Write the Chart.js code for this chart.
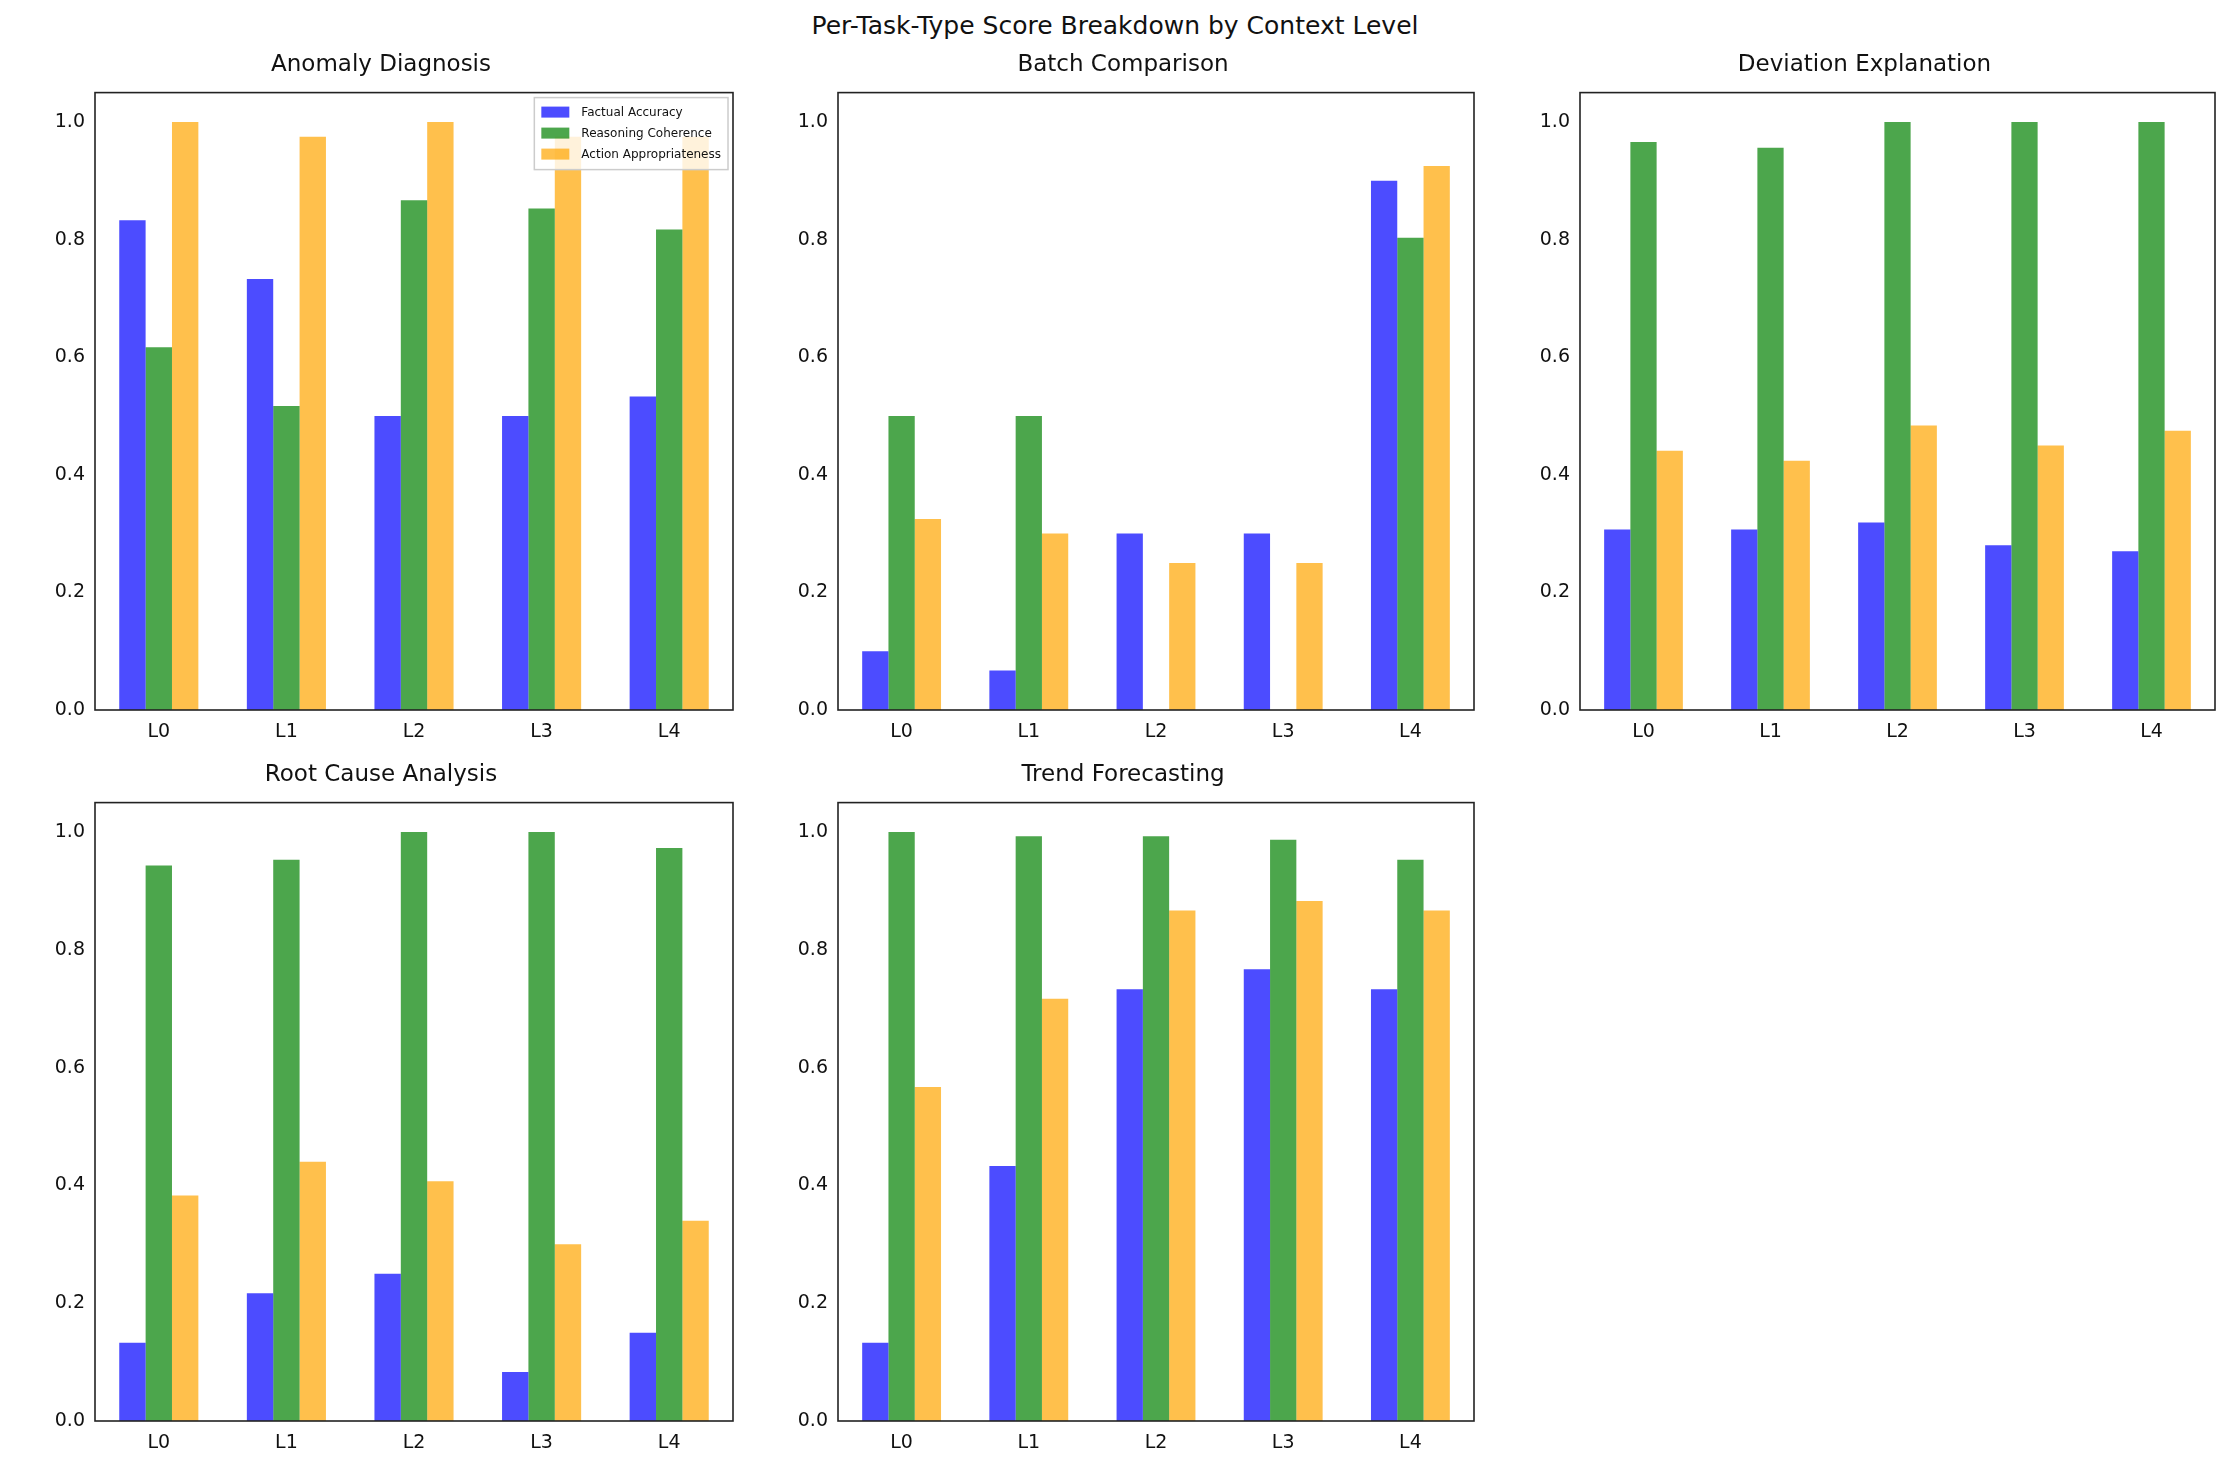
<!DOCTYPE html>
<html lang="en">
<head>
  <meta charset="UTF-8" />
  <title>Per-Task-Type Score Breakdown by Context Level</title>
  <script src="https://cdn.jsdelivr.net/npm/chart.js"></script>
  <style>
    body { margin: 0; background: white; font-family: 'DejaVu Sans', sans-serif; }
    #page { position: relative; width: 2230px; height: 1475px; }
    #suptitle { position: absolute; top: 11px; left: 0; width: 2230px; text-align: center; font-size: 25px; color: #111; }
    .panel { position: absolute; }
  </style>
</head>
<body>
  <div id="page">
    <div id="suptitle">Per-Task-Type Score Breakdown by Context Level</div>
  </div>

  <script>
    const levels = ["L0", "L1", "L2", "L3", "L4"];
    const seriesNames = ["Factual Accuracy", "Reasoning Coherence", "Action Appropriateness"];
    const taskTitles = ["Anomaly Diagnosis", "Batch Comparison", "Deviation Explanation", "Root Cause Analysis", "Trend Forecasting"];
    const yTicks = [0, 0.2, 0.4, 0.6, 0.8, 1.0];

    const anomalyFactual = [0.833, 0.733, 0.5, 0.5, 0.533];
    const anomalyReasoning = [0.617, 0.517, 0.867, 0.853, 0.817];
    const anomalyAction = [1.0, 0.975, 1.0, 0.975, 0.975];

    const batchFactual = [0.1, 0.067, 0.3, 0.3, 0.9];
    const batchReasoning = [0.5, 0.5, 0, 0, 0.803];
    const batchAction = [0.325, 0.3, 0.25, 0.25, 0.925];

    const deviationFactual = [0.307, 0.307, 0.319, 0.28, 0.27];
    const deviationReasoning = [0.966, 0.956, 1.0, 1.0, 1.0];
    const deviationAction = [0.441, 0.424, 0.484, 0.45, 0.475];

    const rootFactual = [0.133, 0.217, 0.25, 0.083, 0.15];
    const rootReasoning = [0.943, 0.953, 1.0, 1.0, 0.973];
    const rootAction = [0.383, 0.44, 0.407, 0.3, 0.34];

    const trendFactual = [0.133, 0.433, 0.733, 0.767, 0.733];
    const trendReasoning = [1.0, 0.993, 0.993, 0.987, 0.953];
    const trendAction = [0.567, 0.717, 0.867, 0.883, 0.867];

    const taskData = [
      [anomalyFactual, anomalyReasoning, anomalyAction],
      [batchFactual, batchReasoning, batchAction],
      [deviationFactual, deviationReasoning, deviationAction],
      [rootFactual, rootReasoning, rootAction],
      [trendFactual, trendReasoning, trendAction]
    ];

    const colors = ["rgba(0,0,255,0.7)", "rgba(0,128,0,0.7)", "rgba(255,165,0,0.7)"];

    // axes boxes (left, top, width, height) in page pixels
    const boxes = [
      [95, 95, 637, 615], [838, 95, 635, 615], [1580, 95, 634, 615],
      [95, 805, 637, 616], [838, 805, 635, 616]
    ];
    const padL = 66, padT = 54, padB = 48;

    // small matplotlib-style legend in the upper right of the axes
    const cornerLegend = {
      id: 'cornerLegend',
      afterDraw(chart, args, opts) {
        if (!opts.show) return;
        const a = chart.chartArea, c = chart.ctx;
        const sets = chart.data.datasets;
        c.save();
        c.font = '12px "DejaVu Sans"';
        const textW = Math.max(...sets.map(d => c.measureText(d.label).width));
        const rowH = 21, boxW = 28, gap = 12, pad = 7;
        const w = pad + boxW + gap + textW + pad;
        const h = pad + rowH * sets.length + 2;
        const x = a.right - w - 5, y = a.top + 5;
        c.fillStyle = 'rgba(255,255,255,0.8)';
        c.fillRect(x, y, w, h);
        c.strokeStyle = '#ccc';
        c.lineWidth = 1.5;
        c.strokeRect(x, y, w, h);
        sets.forEach((d, k) => {
          const ry = y + pad + k * rowH;
          c.fillStyle = d.backgroundColor;
          c.fillRect(x + pad, ry + 2, boxW, 11);
          c.fillStyle = '#111';
          c.textBaseline = 'middle';
          c.fillText(d.label, x + pad + boxW + gap, ry + 8);
        });
        c.restore();
      }
    };

    // axes frame on all four sides
    const axesFrame = {
      id: 'axesFrame',
      afterDraw(chart) {
        const a = chart.chartArea, c = chart.ctx;
        c.save();
        c.strokeStyle = '#222';
        c.lineWidth = 1.6;
        c.strokeRect(a.left, a.top, a.right - a.left, a.bottom - a.top);
        c.restore();
      }
    };

    taskTitles.forEach((title, i) => {
      const [l, t, w, h] = boxes[i];
      const div = document.createElement('div');
      div.className = 'panel';
      div.style.left = (l - padL) + 'px';
      div.style.top = (t - padT) + 'px';
      div.style.width = (w + padL + 4) + 'px';
      div.style.height = (h + padT + padB) + 'px';
      const canvas = document.createElement('canvas');
      div.appendChild(canvas);
      document.getElementById('page').appendChild(div);

      new Chart(canvas.getContext('2d'), {
        type: 'bar',
        data: {
          labels: levels,
          datasets: seriesNames.map((name, k) => ({
            label: name,
            data: taskData[i][k],
            backgroundColor: colors[k],
            borderWidth: 0,
            categoryPercentage: 0.62,
            barPercentage: 1.0
          }))
        },
        options: {
          responsive: true,
          maintainAspectRatio: false,
          animation: false,
          layout: { padding: { right: 3 } },
          plugins: {
            title: {
              display: true,
              text: title,
              color: '#111',
              font: { family: 'DejaVu Sans', size: 23, weight: 'normal' },
              padding: { top: 10, bottom: 14 }
            },
            legend: { display: false },
            cornerLegend: { show: i === 0 },
            tooltip: { enabled: false }
          },
          scales: {
            x: {
              grid: { display: false, drawTicks: true, tickLength: 6, tickColor: '#222' },
              border: { display: false },
              ticks: { color: '#111', font: { family: 'DejaVu Sans', size: 19 }, padding: 5 },
              afterFit(s) { s.height = padB; }
            },
            y: {
              min: 0, max: 1.05,
              afterBuildTicks(s) { s.ticks = yTicks.map(v => ({ value: v })); },
              grid: { display: false, drawTicks: true, tickLength: 6, tickColor: '#222' },
              border: { display: false },
              ticks: {
                color: '#111', font: { family: 'DejaVu Sans', size: 19 }, padding: 4,
                callback: v => v.toFixed(1)
              },
              afterFit(s) { s.width = padL; }
            }
          }
        },
        plugins: [cornerLegend, axesFrame]
      });
    });
  </script>
</body>
</html>
